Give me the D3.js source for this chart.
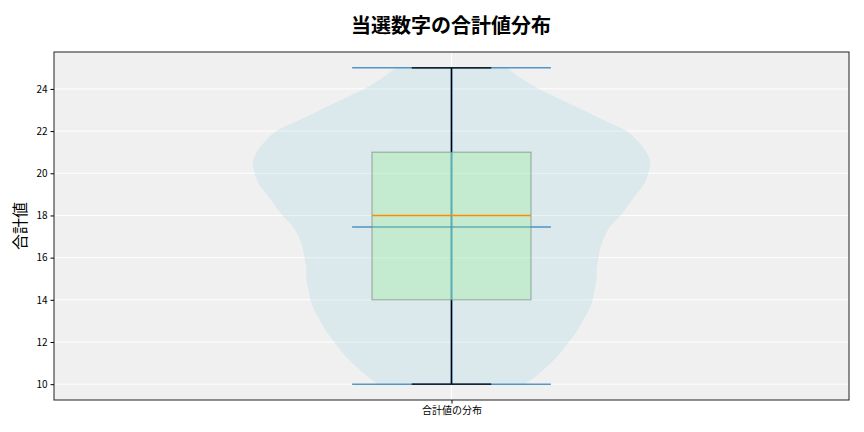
<!DOCTYPE html>
<html>
<head>
<meta charset="utf-8">
<script src="https://cdn.jsdelivr.net/npm/d3@7"></script>
<style>
  body { margin: 0; background: #fff; }
  text { font-family: "Noto Sans CJK JP", "Noto Sans", sans-serif; }
</style>
</head>
<body>
<div id="chart"></div>
<script>
// violin outline: value and relative width (1 = widest)
const violinValues = [10, 10.5, 11, 11.5, 12, 12.5, 13, 13.5, 14, 14.5, 15, 15.5, 16, 16.5, 17, 17.5,
  18, 18.5, 19, 19.5, 20, 20.5, 21, 21.5, 22, 22.5, 23, 23.5, 24, 24.5, 25];
const violinDensity = [0.37, 0.44, 0.50, 0.55, 0.59, 0.63, 0.66, 0.69, 0.71, 0.72, 0.73, 0.73, 0.74, 0.75, 0.77, 0.80,
  0.85, 0.89, 0.93, 0.97, 0.99, 1.0, 0.98, 0.94, 0.88, 0.77, 0.66, 0.55, 0.44, 0.35, 0.28];

// box plot stats
const boxStats = { min: 10, q1: 14, median: 18, q3: 21, max: 25 };
const meanValue = 17.45;

const category = "合計値の分布";
const yTicks = [10, 12, 14, 16, 18, 20, 22, 24];

const width = 864, height = 432;
const margin = { top: 52, right: 15, bottom: 32, left: 54 };

const svg = d3.select("#chart").append("svg")
  .attr("width", width)
  .attr("height", height);

const x = d3.scaleLinear().domain([0.5, 1.5]).range([margin.left, width - margin.right]);
const y = d3.scaleLinear().domain([9.25, 25.75]).range([height - margin.bottom, margin.top]);

// plot background
svg.append("rect")
  .attr("x", x(0.5)).attr("y", y(25.75))
  .attr("width", x(1.5) - x(0.5)).attr("height", y(9.25) - y(25.75))
  .attr("fill", "#f0f0f0");

// grid
svg.append("g").selectAll("line").data(yTicks).join("line")
  .attr("x1", x(0.5)).attr("x2", x(1.5))
  .attr("y1", d => y(d)).attr("y2", d => y(d))
  .attr("stroke", "#fff").attr("stroke-width", 1);
svg.append("line")
  .attr("x1", x(1)).attr("x2", x(1))
  .attr("y1", y(25.75)).attr("y2", y(9.25))
  .attr("stroke", "#fff").attr("stroke-width", 1);

// violin body
const halfWidth = 0.25;
const violinPts = violinValues.map((v, i) => [v, violinDensity[i]]);
const area = d3.area()
  .y(d => y(d[0]))
  .x0(d => x(1 - halfWidth * d[1]))
  .x1(d => x(1 + halfWidth * d[1]))
  .curve(d3.curveCatmullRom);
svg.append("path")
  .datum(violinPts)
  .attr("d", area)
  .attr("fill", "#add8e6")
  .attr("fill-opacity", 0.3);

// violin lines (extrema, mean, center bar)
const vc = "#1f77b4";
svg.append("line")
  .attr("x1", x(1)).attr("x2", x(1))
  .attr("y1", y(boxStats.min)).attr("y2", y(boxStats.max))
  .attr("stroke", vc).attr("stroke-width", 2).attr("stroke-opacity", 0.8);
[boxStats.min, boxStats.max, meanValue].forEach(v => {
  svg.append("line")
    .attr("x1", x(1 - halfWidth / 2)).attr("x2", x(1 + halfWidth / 2))
    .attr("y1", y(v)).attr("y2", y(v))
    .attr("stroke", vc).attr("stroke-width", 1.6).attr("stroke-opacity", 0.75);
});

// whiskers and caps
const bw = 0.1;
svg.append("line")
  .attr("x1", x(1)).attr("x2", x(1))
  .attr("y1", y(boxStats.q3)).attr("y2", y(boxStats.max))
  .attr("stroke", "#000").attr("stroke-width", 1.3);
svg.append("line")
  .attr("x1", x(1)).attr("x2", x(1))
  .attr("y1", y(boxStats.min)).attr("y2", y(boxStats.q1))
  .attr("stroke", "#000").attr("stroke-width", 1.3);
[boxStats.min, boxStats.max].forEach(v => {
  svg.append("line")
    .attr("x1", x(1 - bw / 2)).attr("x2", x(1 + bw / 2))
    .attr("y1", y(v)).attr("y2", y(v))
    .attr("stroke", "#000").attr("stroke-width", 1.3);
});

// box
svg.append("rect")
  .attr("x", x(1 - bw)).attr("y", y(boxStats.q3))
  .attr("width", x(1 + bw) - x(1 - bw))
  .attr("height", y(boxStats.q1) - y(boxStats.q3))
  .attr("fill", "#90ee90").attr("fill-opacity", 0.3)
  .attr("stroke", "#6f8a78").attr("stroke-opacity", 0.7).attr("stroke-width", 1);

// median
svg.append("line")
  .attr("x1", x(1 - bw)).attr("x2", x(1 + bw))
  .attr("y1", y(boxStats.median)).attr("y2", y(boxStats.median))
  .attr("stroke", "#ff8c00").attr("stroke-width", 1.6);

// frame
svg.append("rect")
  .attr("x", x(0.5)).attr("y", y(25.75))
  .attr("width", x(1.5) - x(0.5)).attr("height", y(9.25) - y(25.75))
  .attr("fill", "none").attr("stroke", "#222").attr("stroke-width", 1);

// axes
const yAxis = svg.append("g")
  .attr("transform", `translate(${x(0.5)},0)`)
  .call(d3.axisLeft(y).tickValues(yTicks).tickSize(3.5).tickPadding(3));
yAxis.select(".domain").remove();
yAxis.selectAll("text").attr("font-size", 10).attr("fill", "#000");

const xAxis = svg.append("g")
  .attr("transform", `translate(0,${y(9.25)})`)
  .call(d3.axisBottom(x).tickValues([1]).tickFormat(() => category).tickSize(3.5).tickPadding(3));
xAxis.select(".domain").remove();
xAxis.selectAll("text").attr("font-size", 10).attr("fill", "#000");

// labels
svg.append("text")
  .attr("x", width / 2 + 19).attr("y", 33)
  .attr("text-anchor", "middle")
  .attr("font-size", 20).attr("font-weight", "bold")
  .text("当選数字の合計値分布");

svg.append("text")
  .attr("transform", `translate(26,${(y(9.25) + y(25.75)) / 2}) rotate(-90)`)
  .attr("text-anchor", "middle")
  .attr("font-size", 16)
  .text("合計値");
</script>
</body>
</html>
